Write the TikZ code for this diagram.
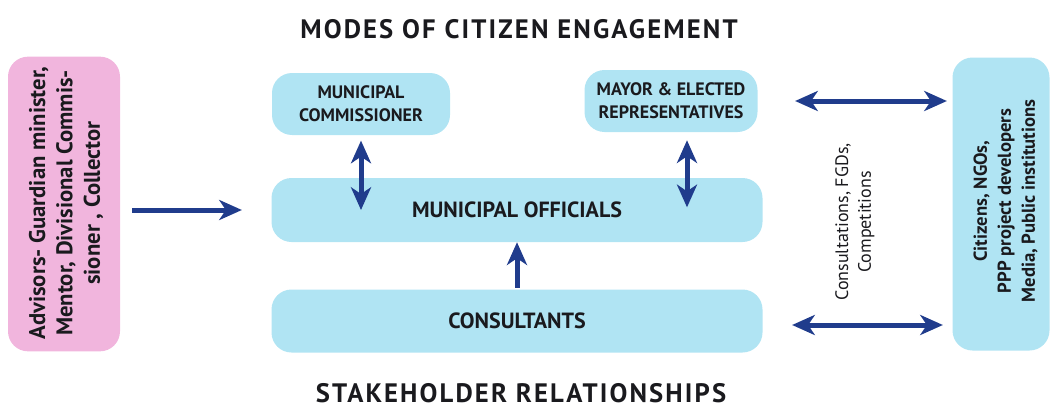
\documentclass[tikz,border=0pt]{standalone}
\usepackage{fontspec}
\setmainfont{PT Sans}
\usetikzlibrary{arrows.meta}
\definecolor{boxblue}{RGB}{176,228,243}
\definecolor{boxpink}{RGB}{241,181,221}
\definecolor{flowblue}{RGB}{32,60,140}
\definecolor{inkdark}{RGB}{26,26,30}
\begin{document}
\begin{tikzpicture}[x=0.75pt,y=-0.75pt,
	bluebox/.style={fill=boxblue,rounded corners=15pt,inner sep=0pt,align=center,text=inkdark,font=\bfseries\fontsize{13.5}{17}\selectfont},
	pinkbox/.style={bluebox,fill=boxpink},
	widebox/.style={bluebox,minimum width=368.25pt,font=\bfseries\fontsize{16.5}{18}\selectfont},
	heading/.style={text=inkdark,font=\bfseries\fontsize{20}{22}\selectfont\addfontfeature{LetterSpace=8}},
	flow/.style={flowblue,line width=3.75pt,-{Stealth[length=17pt,width=15pt,inset=5pt]}},
	twoway/.style={flow,{Stealth[length=17pt,width=15pt,inset=5pt]}-{Stealth[length=17pt,width=15pt,inset=5pt]}}]
	\useasboundingbox (0,0) rectangle (1056,414);
	% headings
	\node[heading] (modes) at (519,29) {MODES OF CITIZEN ENGAGEMENT};
	\node[heading] (relations) at (521,393) {STAKEHOLDER RELATIONSHIPS};
	% boxes
	\node[pinkbox,minimum width=84pt,minimum height=221pt] (adv) at (64,204) {};
	\node[text=inkdark,font=\bfseries\fontsize{17}{20.5}\selectfont] (advtext) at (67,203)
		{\rotatebox{90}{\begin{tabular}{@{}c@{}}Advisors- Guardian minister,\\Mentor, Divisional Commis-\\sioner , Collector\end{tabular}}};
	\node[bluebox,minimum width=133.5pt,minimum height=46.5pt] (comm) at (361,104) {MUNICIPAL\\COMMISSIONER};
	\node[bluebox,minimum width=129.75pt,minimum height=46.5pt] (mayor) at (671,101) {MAYOR \& ELECTED\\REPRESENTATIVES};
	\node[widebox,minimum height=48pt] (off) at (517,210) {MUNICIPAL OFFICIALS};
	\node[widebox,minimum height=47.25pt] (cons) at (517,321) {CONSULTANTS};
	\node[bluebox,minimum width=72.75pt,minimum height=219.75pt] (cit) at (1001,204) {};
	\node[text=inkdark,font=\bfseries\fontsize{14}{18}\selectfont] (cittext) at (1006,201)
		{\rotatebox{90}{\begin{tabular}{@{}c@{}}Citizens, NGOs,\\PPP project developers\\Media, Public institutions\end{tabular}}};
	\node[text=inkdark,font=\fontsize{13.5}{17}\selectfont] (fgd) at (855,222)
		{\rotatebox{90}{\begin{tabular}{@{}c@{}}Consultations, FGDs,\\Competitions\end{tabular}}};
	% connectors
	\draw[flow,shorten <=9pt,shorten >=22pt] (adv.east |- off.west) -- (off.west);
	\draw[twoway,shorten <=4pt] (comm.south) -- (comm.south |- off.center);
	\draw[twoway,shorten <=6pt,shorten >=2pt] ([xshift=12pt]mayor.south) -- ([xshift=12pt]mayor.south |- off.center);
	\draw[flow,shorten <=1pt] (cons.north) -- (off.south);
	\draw[twoway,shorten <=28pt,shorten >=4pt] (mayor.east) -- (mayor.east -| cit.west);
	\draw[twoway,shorten <=22pt,shorten >=7pt] ([yshift=-3pt]cons.east) -- ([yshift=-3pt]cons.east -| cit.west);
\end{tikzpicture}
\end{document}
